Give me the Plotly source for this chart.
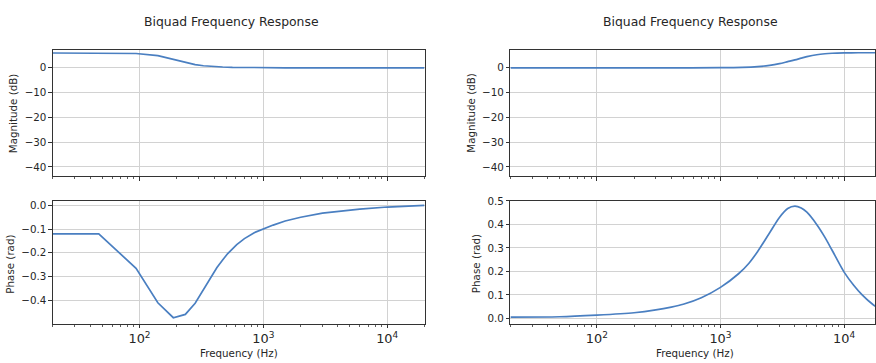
import numpy as np
import plotly.graph_objects as go

# ---------------- data ----------------
low_mag_freq = [20, 46.875, 93.75, 140.625, 187.5, 234.375, 281.25, 328.125, 375, 421.875,
                468.75, 562.5, 656.25, 750, 1000, 1500, 2000, 5000, 20000]
low_mag_db = [6.0, 6.0, 5.8, 4.9, 3.4, 2.0, 1.3, 0.85, 0.6, 0.45,
              0.35, 0.22, 0.15, 0.11, 0.06, 0.03, 0.015, 0.0, 0.0]

low_phase_freq = [20, 46.875, 93.75, 140.625, 187.5, 234.375, 281.25, 328.125, 375, 421.875,
                  468.75, 515.625, 609.375, 703.125, 843.75, 1000, 1200, 1500, 2000, 3000,
                  4000, 6000, 10000, 15000, 20000]
low_phase_rad = [-0.12, -0.12, -0.265, -0.41, -0.473, -0.459, -0.412, -0.355, -0.302, -0.262,
                 -0.23, -0.203, -0.165, -0.14, -0.115, -0.099, -0.083, -0.066, -0.05, -0.033,
                 -0.025, -0.016, -0.007, -0.003, 0.0]

high_mag_freq = [20, 500, 1000, 1500, 2000, 2500, 3000, 3500, 4000, 4500, 5000, 6000, 7000,
                 8000, 10000, 13000, 17000, 20000]
high_mag_db = [0.0, 0.01, 0.06, 0.2, 0.5, 1.0, 1.7, 2.5, 3.2, 3.9, 4.5, 5.3, 5.7,
               5.9, 6.05, 6.1, 6.1, 6.1]

high_phase_freq = [20, 50, 100, 200, 300, 400, 500, 700, 1000, 1400, 1700, 2000, 2500, 3000,
                   3500, 4000, 4500, 5000, 6000, 7000, 8000, 10000, 12000, 14000, 17000, 20000]
high_phase_rad = [0.0056, 0.007, 0.014, 0.024, 0.036, 0.048, 0.06, 0.088, 0.132, 0.19, 0.235,
                  0.285, 0.365, 0.43, 0.468, 0.478, 0.47, 0.452, 0.40, 0.345, 0.29, 0.197,
                  0.14, 0.10, 0.06, 0.035]

title_text = "Biquad Frequency Response"
mag_label = "Magnitude (dB)"
phase_label = "Phase (rad)"
freq_label = "Frequency (Hz)"

# ---------------- figure ----------------
W, H = 876, 363
LINE = "#4a7fc1"
SPINE = "#333333"
GRID = "#d2d2d2"
FONT = "DejaVu Sans"
TXT = "#262626"
FS = 10.3


def px(x):
    return x / W


def py(y):
    return 1 - y / H


fig = go.Figure()
fig.add_trace(go.Scatter(x=low_mag_freq, y=low_mag_db, mode="lines", xaxis="x", yaxis="y",
                         line=dict(color=LINE, width=1.7)))
fig.add_trace(go.Scatter(x=low_phase_freq, y=low_phase_rad, mode="lines", xaxis="x2", yaxis="y2",
                         line=dict(color=LINE, width=1.7)))
fig.add_trace(go.Scatter(x=high_mag_freq, y=high_mag_db, mode="lines", xaxis="x3", yaxis="y3",
                         line=dict(color=LINE, width=1.7, shape="spline", smoothing=0.8)))
fig.add_trace(go.Scatter(x=high_phase_freq, y=high_phase_rad, mode="lines", xaxis="x4", yaxis="y4",
                         line=dict(color=LINE, width=1.7, shape="spline", smoothing=0.8)))

left_dom = [px(53), px(425)]
right_dom = [px(511), 1.0]
top_dom = [py(173), py(45)]
bot_dom = [py(323), py(198)]


def xax(domain, anchor, rng, labels):
    return dict(type="log", domain=domain, anchor=anchor, range=rng, dtick=1,
                exponentformat="power", showticklabels=labels,
                showline=True, linecolor=SPINE, linewidth=1, mirror=True,
                ticks="outside", ticklen=3.5, tickwidth=1, tickcolor=SPINE,
                showgrid=True, gridcolor=GRID, gridwidth=1, zeroline=False,
                minor=dict(ticks="outside", ticklen=2, tickwidth=0.8, tickcolor=SPINE,
                           dtick="D1", showgrid=False),
                tickfont=dict(family=FONT, size=FS, color=TXT))


def yax(domain, anchor, rng, dtick, fmt):
    return dict(domain=domain, anchor=anchor, range=rng, dtick=dtick, tick0=0, tickformat=fmt,
                showline=True, linecolor=SPINE, linewidth=1, mirror=True,
                ticks="outside", ticklen=3.5, tickwidth=1, tickcolor=SPINE,
                showgrid=True, gridcolor=GRID, gridwidth=1, zeroline=False,
                tickfont=dict(family=FONT, size=FS, color=TXT))


lx = [np.log10(20), np.log10(20000)]
rx = [np.log10(20), 4.25]

fig.update_layout(
    width=W, height=H, margin=dict(l=0, r=0, t=0, b=0),
    paper_bgcolor="white", plot_bgcolor="white", showlegend=False,
    font=dict(family=FONT, size=FS, color=TXT),
    xaxis=xax(left_dom, "y", lx, False),
    xaxis2=xax(left_dom, "y2", lx, True),
    xaxis3=xax(right_dom, "y3", rx, False),
    xaxis4=xax(right_dom, "y4", rx, True),
    yaxis=yax(top_dom, "x", [-43.7, 7.1], 10, "d"),
    yaxis2=yax(bot_dom, "x2", [-0.498, 0.0195], 0.1, ".1f"),
    yaxis3=yax(top_dom, "x3", [-43.7, 7.1], 10, "d"),
    yaxis4=yax(bot_dom, "x4", [-0.0225, 0.501], 0.1, ".1f"),
)

ann = []
for cx in (232, 691):
    ann.append(dict(text=title_text, x=px(cx), y=py(16), xref="paper", yref="paper",
                    xanchor="center", yanchor="middle", showarrow=False,
                    font=dict(family=FONT, size=12.4, color=TXT)))
for cx in (239, 696):
    ann.append(dict(text=freq_label, x=px(cx), y=py(353), xref="paper", yref="paper",
                    xanchor="center", yanchor="middle", showarrow=False,
                    font=dict(family=FONT, size=FS, color=TXT)))
for cx, cy, t in ((13, 109, mag_label), (10, 262, phase_label),
                  (472, 109, mag_label), (476, 262, phase_label)):
    ann.append(dict(text=t, x=px(cx), y=py(cy), xref="paper", yref="paper", textangle=-90,
                    xanchor="center", yanchor="middle", showarrow=False,
                    font=dict(family=FONT, size=FS, color=TXT)))
fig.update_layout(annotations=ann)

fig.write_html("out.html", config={"displayModeBar": False, "staticPlot": True})

# remove the default page margins so the figure sits at the window's top-left corner
with open("out.html", "r", encoding="utf-8") as fh:
    html = fh.read()
html = html.replace("<head>", "<head><style>html,body{margin:0;padding:0;overflow:hidden;}"
                    "body>div{font-size:0;line-height:0;}</style>", 1)
with open("out.html", "w", encoding="utf-8") as fh:
    fh.write(html)
